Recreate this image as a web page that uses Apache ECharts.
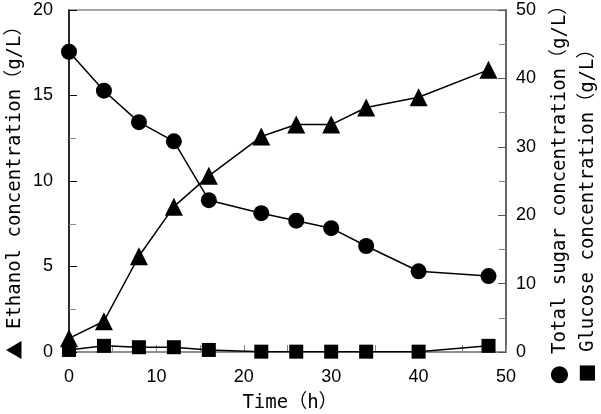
<!DOCTYPE html>
<html><head><meta charset="utf-8">
<script src="https://cdn.jsdelivr.net/npm/echarts@6/dist/echarts.min.js"></script>
<style>html,body{margin:0;padding:0;background:#fff}#c{width:601px;height:414px}</style>
</head><body><div id="c"></div>
<script>
const times = [0, 4, 8, 12, 16, 22, 26, 30, 34, 40, 48];
const ethanol = [0.8, 1.8, 5.6, 8.5, 10.3, 12.6, 13.3, 13.3, 14.3, 14.9, 16.5];
const totalSugar = [43.9, 38.2, 33.6, 30.8, 22.2, 20.3, 19.2, 18.1, 15.5, 11.8, 11.1];
const glucose = [0.3, 0.9, 0.7, 0.7, 0.3, 0.05, 0.05, 0.05, 0.05, 0.05, 0.9];
const xTitle = 'Time（h）';
const leftSym = '▲', leftTitle = ' Ethanol concentration（g/L）';
const rightSym1 = '●', rightTitle1 = ' Total sugar concentration（g/L）';
const rightSym2 = '■', rightTitle2 = ' Glucose concentration（g/L）';

const MONO = '"DejaVu Sans Mono", "Noto Sans CJK JP", monospace';
const CJK = '"Noto Sans CJK JP", sans-serif';
const SANS = '"Liberation Sans", Arial, sans-serif';
const pair = arr => times.map((t, i) => [t, arr[i]]);
const chart = echarts.init(document.getElementById('c'), null, {renderer: 'canvas'});
const axisLabel = {color: '#000', fontSize: 18, fontFamily: SANS};
function title(x, y, sym, txt) {
  return {
    type: 'text', x: x, y: y, rotation: Math.PI / 2,
    style: {
      text: '{s|' + sym + '}{t|' + txt + '}', fill: '#000', align: 'center', verticalAlign: 'middle',
      rich: {
        s: {fontFamily: CJK, fontSize: 19, fill: '#000'},
        t: {fontFamily: MONO, fontSize: 19, fill: '#000'}
      }
    }
  };
}
chart.setOption({
  animation: false,
  backgroundColor: '#fff',
  grid: {left: 69, right: 95, top: 10, bottom: 62, show: true, borderColor: '#888', borderWidth: 1.5},
  xAxis: {
    type: 'value', min: 0, max: 50, interval: 10,
    axisLine: {lineStyle: {color: '#888', width: 1.5}},
    axisTick: {inside: true, length: 7, lineStyle: {color: '#888'}},
    minorTick: {show: true, splitNumber: 2, length: 7, lineStyle: {color: '#888'}},
    splitLine: {show: false},
    axisLabel: Object.assign({margin: 16}, axisLabel)
  },
  yAxis: [{
    type: 'value', min: 0, max: 20, interval: 5,
    axisLine: {show: true, lineStyle: {color: '#000', width: 1.5}},
    axisTick: {inside: true, length: 8, lineStyle: {color: '#000'}},
    minorTick: {show: true, splitNumber: 2, length: 7, lineStyle: {color: '#888'}},
    splitLine: {show: false},
    axisLabel: Object.assign({margin: 16}, axisLabel)
  }, {
    type: 'value', min: 0, max: 50, interval: 10, position: 'right',
    axisLine: {show: true, lineStyle: {color: '#555', width: 1.5}},
    axisTick: {inside: true, length: 8, lineStyle: {color: '#555'}},
    minorTick: {show: true, splitNumber: 2, length: 7, lineStyle: {color: '#888'}},
    splitLine: {show: false},
    axisLabel: Object.assign({margin: 10}, axisLabel)
  }],
  series: [{
    type: 'line', yAxisIndex: 0, data: pair(ethanol),
    symbol: 'triangle', symbolSize: 18,
    lineStyle: {color: '#000', width: 1.5}, itemStyle: {color: '#000'}
  }, {
    type: 'line', yAxisIndex: 1, data: pair(totalSugar),
    symbol: 'circle', symbolSize: 16,
    lineStyle: {color: '#000', width: 1.5}, itemStyle: {color: '#000'}
  }, {
    type: 'line', yAxisIndex: 1, data: pair(glucose),
    symbol: 'rect', symbolSize: 14,
    lineStyle: {color: '#000', width: 1.5}, itemStyle: {color: '#000'}
  }],
  graphic: [{
    type: 'text', x: 290, y: 403,
    style: {text: xTitle, fill: '#000', font: '19px ' + MONO, align: 'center', verticalAlign: 'middle'}
  },
    title(15, 188, leftSym, leftTitle),
    title(560, 190, rightSym1, rightTitle1),
    title(588, 211, rightSym2, rightTitle2)
  ]
});
</script></body></html>
